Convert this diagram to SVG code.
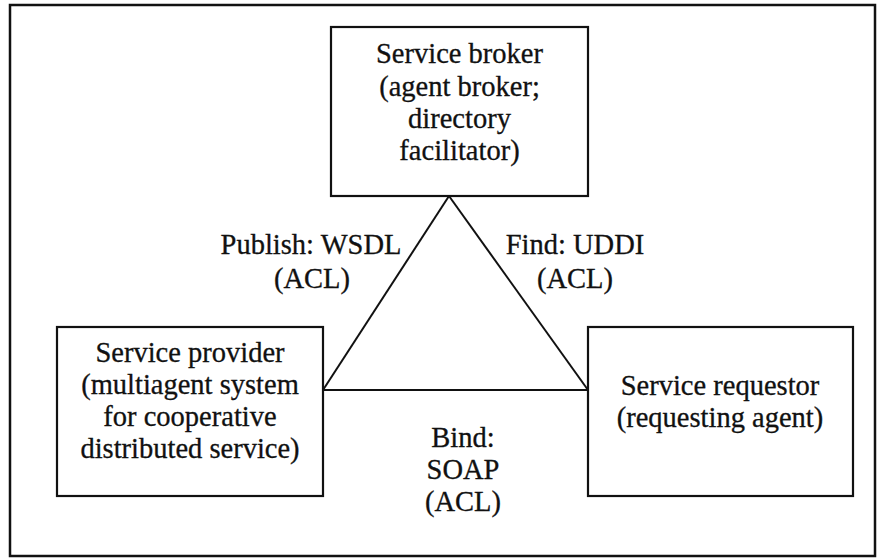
<svg xmlns="http://www.w3.org/2000/svg" width="878" height="560" viewBox="0 0 878 560">
  <style>
    .box { fill: #fff; stroke: #111; stroke-width: 2.2; }
    .frame { fill: none; stroke: #111; stroke-width: 2.5; }
    .link { stroke: #111; stroke-width: 2; fill: none; }
    text { font-family: "Liberation Serif", "Times New Roman", serif; font-size: 28.5px; fill: #111; stroke: #111; stroke-width: 0.3; text-anchor: middle; }
  </style>
  <rect width="878" height="560" fill="#fff"/>
  <rect class="frame" x="10" y="5" width="865" height="551"/>

  <g id="connectors">
    <line class="link" x1="449" y1="196" x2="323" y2="390"/>
    <line class="link" x1="449" y1="196" x2="588" y2="390"/>
    <line class="link" x1="323" y1="390" x2="588" y2="390"/>
    <text x="311" y="254">Publish: WSDL</text>
    <text x="312" y="288">(ACL)</text>
    <text x="575" y="254">Find: UDDI</text>
    <text x="575" y="288">(ACL)</text>
    <text x="463" y="447">Bind:</text>
    <text x="463" y="479">SOAP</text>
    <text x="463" y="511">(ACL)</text>
  </g>

  <g id="broker">
    <rect class="box" x="331" y="27" width="257" height="169"/>
    <text x="459.5" y="63">Service broker</text>
    <text x="459.5" y="96">(agent broker;</text>
    <text x="459.5" y="128">directory</text>
    <text x="459.5" y="160">facilitator)</text>
  </g>

  <g id="provider">
    <rect class="box" x="57" y="327" width="266" height="169"/>
    <text x="190" y="362">Service provider</text>
    <text x="190" y="394">(multiagent system</text>
    <text x="190" y="426">for cooperative</text>
    <text x="190" y="458">distributed service)</text>
  </g>

  <g id="requestor">
    <rect class="box" x="588" y="327" width="265" height="169"/>
    <text x="720" y="395">Service requestor</text>
    <text x="720" y="427">(requesting agent)</text>
  </g>
</svg>
